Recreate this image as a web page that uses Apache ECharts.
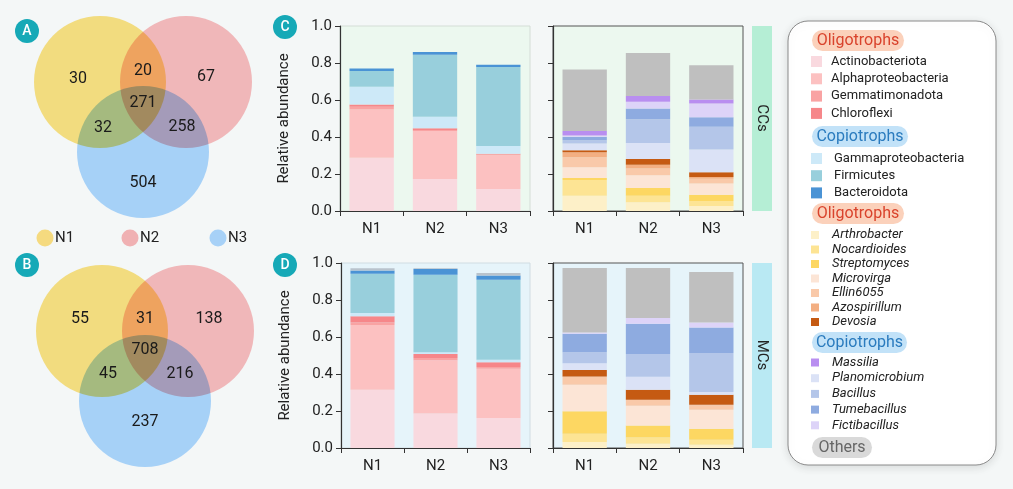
<!DOCTYPE html>
<html>
<head>
<meta charset="utf-8">
<script src="https://cdn.jsdelivr.net/npm/echarts@6/dist/echarts.min.js"></script>
<style>
  html, body { margin: 0; padding: 0; background: #f4f7f7; }
  #main { width: 1013px; height: 489px; }
</style>
</head>
<body>
<div id="main"></div>
<script>
// ---- data ----
const samples = ['N1', 'N2', 'N3'];
const yTicks = [0, 0.2, 0.4, 0.6, 0.8, 1.0];

// venn counts: only N1, N1&N2, only N2, all, N1&N3, N2&N3, only N3
const vennA = [30, 20, 67, 271, 32, 258, 504];
const vennB = [55, 31, 138, 708, 45, 216, 237];

const phylaOligo = ['Actinobacteriota', 'Alphaproteobacteria', 'Gemmatimonadota', 'Chloroflexi'];
const phylaCopio = ['Gammaproteobacteria', 'Firmicutes', 'Bacteroidota'];
const genusOligo = ['Arthrobacter', 'Nocardioides', 'Streptomyces', 'Microvirga', 'Ellin6055', 'Azospirillum', 'Devosia'];
const genusCopio = ['Massilia', 'Planomicrobium', 'Bacillus', 'Tumebacillus', 'Fictibacillus'];
// stacking order of genera (bottom -> top)
const genusStack = ['Arthrobacter', 'Nocardioides', 'Streptomyces', 'Microvirga', 'Ellin6055', 'Azospirillum', 'Devosia',
  'Planomicrobium', 'Bacillus', 'Tumebacillus', 'Fictibacillus', 'Massilia', 'Others'];

// phyla, rows follow phylaOligo + phylaCopio, columns N1 N2 N3
const ccPhyla = [
  [0.288, 0.173, 0.119],
  [0.261, 0.260, 0.183],
  [0.014, 0.005, 0.004],
  [0.013, 0.009, 0.003],
  [0.095, 0.062, 0.042],
  [0.086, 0.336, 0.428],
  [0.013, 0.015, 0.012]
];
const mcPhyla = [
  [0.315, 0.186, 0.162],
  [0.350, 0.288, 0.267],
  [0.014, 0.012, 0.009],
  [0.033, 0.022, 0.025],
  [0.018, 0.009, 0.014],
  [0.212, 0.420, 0.433],
  [0.018, 0.031, 0.023]
];
const mcPhylaRest = [0.011, 0.004, 0.013];

// genera, rows follow genusStack
const ccGenus = [
  [0.083, 0.047, 0.027],
  [0.084, 0.036, 0.027],
  [0.011, 0.041, 0.034],
  [0.058, 0.069, 0.061],
  [0.054, 0.037, 0.025],
  [0.027, 0.020, 0.010],
  [0.012, 0.031, 0.025],
  [0.036, 0.086, 0.124],
  [0.018, 0.129, 0.122],
  [0.018, 0.058, 0.052],
  [0.007, 0.036, 0.074],
  [0.024, 0.031, 0.022],
  [0.333, 0.233, 0.185]
];
const mcGenus = [
  [0.032, 0.023, 0.018],
  [0.045, 0.034, 0.027],
  [0.121, 0.065, 0.059],
  [0.144, 0.107, 0.103],
  [0.042, 0.030, 0.024],
  [0.003, 0.002, 0.003],
  [0.035, 0.054, 0.054],
  [0.036, 0.070, 0.015],
  [0.060, 0.123, 0.210],
  [0.099, 0.164, 0.139],
  [0.008, 0.031, 0.027],
  [0.000, 0.000, 0.000],
  [0.348, 0.270, 0.272]
];

// ---- styles ----
const FONT = 'Roboto';
const phylaColors = ['#f9d9df', '#fcc1c1', '#f9a3a3', '#f6878a', '#cde9f8', '#98cfdc', '#4a93d5'];
const genusColors = {
  Arthrobacter: '#fdf0c8', Nocardioides: '#fde494', Streptomyces: '#fdd762',
  Microvirga: '#fce5d6', Ellin6055: '#f9c9a9', Azospirillum: '#f3af82', Devosia: '#c55a12',
  Massilia: '#b98ef0', Planomicrobium: '#dbe2f6', Bacillus: '#b4c6e9',
  Tumebacillus: '#8eabe0', Fictibacillus: '#ddd3f8', Others: '#bfbfbf'
};

const grids = [
  { left: 340, top: 26, width: 190, height: 185, backgroundColor: '#ecf8ef', borderColor: '#d4ddd6' },
  { left: 553, top: 26, width: 190, height: 185, backgroundColor: '#ecf8ef', borderColor: '#555' },
  { left: 341, top: 263, width: 189, height: 185, backgroundColor: '#e6f4fa', borderColor: '#d0dce2' },
  { left: 553, top: 263, width: 190, height: 185, backgroundColor: '#e6f4fa', borderColor: '#555' }
].map(g => Object.assign({ show: true, borderWidth: 1 }, g));

const xAxes = grids.map((g, i) => ({
  type: 'category', gridIndex: i, data: samples,
  axisLine: { lineStyle: { color: '#333', width: 1.2 } },
  axisTick: { show: true, length: 5, lineStyle: { color: '#333' } },
  axisLabel: { fontSize: 15, color: '#222', fontFamily: FONT, margin: 11 }
}));
const yAxes = grids.map((g, i) => ({
  type: 'value', gridIndex: i, min: 0, max: 1, interval: 0.2,
  name: i % 2 === 0 ? 'Relative abundance' : '',
  nameLocation: 'middle', nameGap: 48,
  nameTextStyle: { fontSize: 15, color: '#222', fontFamily: FONT },
  splitLine: { show: false },
  axisLine: { show: true, lineStyle: { color: '#333', width: 1.2 } },
  axisTick: { show: true, length: 5, lineStyle: { color: '#333' } },
  axisLabel: { show: i % 2 === 0, fontSize: 15, color: '#222', fontFamily: FONT,
    formatter: v => yTicks.includes(+v.toFixed(1)) ? v.toFixed(1) : '' }
}));

function bars(names, colorOf, rows, idx) {
  return names.map((n, k) => ({
    type: 'bar', name: n, stack: 's' + idx, xAxisIndex: idx, yAxisIndex: idx,
    barWidth: '70%', itemStyle: { color: colorOf(n, k) },
    emphasis: { disabled: true }, data: rows[k]
  }));
}
const phylaNames = phylaOligo.concat(phylaCopio);
const series = [].concat(
  bars(phylaNames, (n, k) => phylaColors[k], ccPhyla, 0),
  bars(genusStack, n => genusColors[n], ccGenus, 1),
  bars(phylaNames, (n, k) => phylaColors[k], mcPhyla, 2),
  bars(['Other phyla'], () => '#b9c3cc', [mcPhylaRest], 2),
  bars(genusStack, n => genusColors[n], mcGenus, 3)
);

function legend(data, top, size, gap, pad, italic) {
  return {
    data: data, left: 811, top: top, orient: 'vertical', padding: 0,
    itemWidth: size, itemHeight: size, itemGap: gap, icon: 'rect', selectedMode: false,
    textStyle: { fontSize: 13, color: '#222', fontFamily: FONT, fontStyle: italic ? 'italic' : 'normal',
      padding: [0, 0, 0, pad] }
  };
}

// ---- hand-drawn parts: venns, badges, strips, legend box ----
const g = [];
const badge = (x, y, t) => {
  g.push({ type: 'circle', shape: { cx: x, cy: y, r: 12 }, style: { fill: '#16a9b7' }, z: 10 });
  g.push({ type: 'text', x: x, y: y + 0.5, z: 11,
    style: { text: t, fill: '#fff', font: '500 14px ' + FONT, align: 'center', verticalAlign: 'middle' } });
};
// fills slightly lifted so that the multiply with the page tint lands on the reference colours
const vennFill = ['#fde383', '#fbbdbf', '#aed8ff'];
const vennSwatch = ['#f5da7f', '#f0b1b3', '#a7d1f7'];
function venn(ox, oy, counts, offs) {
  const centers = [[0, 0], [86, 0], [43, 70]];
  centers.forEach((c, i) => g.push({
    type: 'circle', shape: { cx: ox + c[0], cy: oy + c[1], r: 66 },
    style: { fill: vennFill[i], blend: 'multiply' }
  }));
  counts.forEach((v, i) => g.push({
    type: 'text', x: ox + offs[i][0], y: oy + offs[i][1], z: 5,
    style: { text: String(v), font: '16px ' + FONT, fill: '#1a1a1a', align: 'center', verticalAlign: 'middle' }
  }));
}
venn(100, 82, vennA, [[-22, -3], [43, -11], [106, -5], [43, 21], [3, 46], [82, 45], [43, 101]]);
venn(102, 331, vennB, [[-22, -12], [43, -12], [107, -12], [43, 19], [6, 43], [78, 43], [43, 91]]);
samples.forEach((s, i) => {
  const x = [45, 130, 218][i];
  g.push({ type: 'circle', shape: { cx: x, cy: 238, r: 8.5 }, style: { fill: vennSwatch[i] } });
  g.push({ type: 'text', x: x + 10, y: 238, style: { text: s, font: '15px ' + FONT, fill: '#222', verticalAlign: 'middle' } });
});
badge(27, 31, 'A');
badge(27, 265, 'B');
badge(285, 27, 'C');
badge(285, 265, 'D');

[['CCs', 26, '#b5eed5'], ['MCs', 263, '#b9e9f3']].forEach(([t, y, c]) => {
  g.push({ type: 'rect', shape: { x: 752, y: y, width: 20, height: 185 }, style: { fill: c } });
  g.push({ type: 'text', x: 762, y: y + 92, rotation: -Math.PI / 2,
    style: { text: t, font: '15px ' + FONT, fill: '#222', align: 'center', verticalAlign: 'middle' } });
});

g.push({ type: 'rect', shape: { x: 788, y: 21, width: 208, height: 444, r: 20 }, z: -1,
  style: { fill: '#fff', stroke: '#8a8a8a', lineWidth: 1, shadowBlur: 10, shadowColor: 'rgba(0,0,0,0.12)', shadowOffsetY: 2 } });
const pill = (y, w, t, fill, color) => {
  g.push({ type: 'rect', shape: { x: 812, y: y, width: w, height: 21, r: 10.5 }, style: { fill: fill } });
  g.push({ type: 'text', x: 812 + w / 2, y: y + 10.5, z: 2,
    style: { text: t, fill: color, font: '16px ' + FONT, align: 'center', verticalAlign: 'middle' } });
};
pill(30, 92, 'Oligotrophs', '#fbd1bb', '#d9432c');
pill(126, 96, 'Copiotrophs', '#c2e2f8', '#2a7bbe');
pill(203, 92, 'Oligotrophs', '#fbd1bb', '#d9432c');
pill(332, 95, 'Copiotrophs', '#c2e2f8', '#2a7bbe');
pill(437, 60, 'Others', '#d9d9d9', '#666');

const chart = echarts.init(document.getElementById('main'), null, { renderer: 'canvas' });
chart.setOption({
  backgroundColor: '#f4f7f7',
  animation: false,
  textStyle: { fontFamily: FONT },
  grid: grids,
  xAxis: xAxes,
  yAxis: yAxes,
  legend: [
    legend(phylaOligo, 55, 11, 4.3, 4, false),
    legend(phylaCopio, 152, 11, 4.2, 7, false),
    legend(genusOligo, 228.5, 8, 1.5, 8, true),
    legend(genusCopio, 356, 8, 2.7, 8, true)
  ],
  graphic: g,
  series: series
});
</script>
</body>
</html>
